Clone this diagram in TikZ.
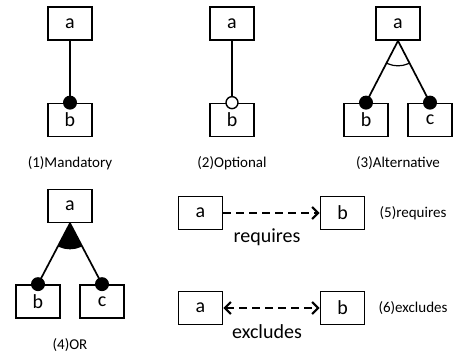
\documentclass[tikz,border=0pt]{standalone}
\usepackage{fontspec}
\setmainfont{Carlito}
\usetikzlibrary{arrows.meta}
\tikzset{
  feat/.style={draw, line width=1.7pt, minimum width=44pt, minimum height=33pt,
    inner sep=0pt, font=\fontsize{20}{20}\selectfont},
  link/.style={line width=1.7pt},
  mand/.style={fill=black},
  opt/.style={fill=white, draw, line width=1.4pt},
  captxt/.style={font=\fontsize{15}{15}\selectfont},
  reltxt/.style={font=\fontsize{20}{20}\selectfont},
  barb/.tip={Straight Barb[length=6pt,width=12pt,line width=2.2pt]},
  dep/.style={line width=2.6pt, dash pattern=on 8pt off 5pt},
}
\begin{document}
\begin{tikzpicture}[x=1pt,y=-1pt]
\useasboundingbox (0,0) rectangle (457,352);

% (1) mandatory feature
\node[feat] (m-a) at (70,23.5) {a};
\node[feat] (m-b) at (70,120) {b};
\draw[link] (m-a.south) -- (m-b.north);
\fill[mand] (m-b.north) circle (7pt);
\node[captxt] (m-cap) at (70,163) {(1)Mandatory};

% (2) optional feature
\node[feat] (o-a) at (232,23.5) {a};
\node[feat] (o-b) at (232,120) {b};
\draw[link] (o-a.south) -- (o-b.north);
\draw[opt] (o-b.north) circle (6pt);
\node[captxt] (o-cap) at (232,163) {(2)Optional};

% (3) alternative group
\node[feat] (x-a) at (398,23.5) {a};
\node[feat] (x-b) at (366,120) {b};
\node[feat] (x-c) at (430,120) {c};
\draw[link] (x-a.south) -- (x-b.north);
\draw[link] (x-a.south) -- (x-c.north);
\begin{scope}
  \clip (x-a.south) -- (x-b.north) -- (x-c.north) -- cycle;
  \draw[line width=1.2pt] (x-a.south) circle (25pt);
\end{scope}
\fill[mand] (x-b.north) circle (7pt);
\fill[mand] (x-c.north) circle (7pt);
\node[captxt] (x-cap) at (398,163) {(3)Alternative};

% (4) or group
\node[feat] (r-a) at (70,206) {a};
\node[feat] (r-b) at (38,301.5) {b};
\node[feat] (r-c) at (102,301.5) {c};
\draw[link] (r-a.south) -- (r-b.north);
\draw[link] (r-a.south) -- (r-c.north);
\begin{scope}
  \clip (r-a.south) -- (r-b.north) -- (r-c.north) -- cycle;
  \fill (r-a.south) circle (26pt);
\end{scope}
\fill[mand] (r-b.north) circle (7pt);
\fill[mand] (r-c.north) circle (7pt);
\node[captxt] (r-cap) at (70,345) {(4)OR};

% (5) requires constraint
\node[feat] (q-a) at (200.5,213) {a};
\node[feat] (q-b) at (342.5,213) {b};
\draw[dep, -barb] (q-a.east) -- (q-b.west);
\node[reltxt] (q-lbl) at (267,237) {requires};
\node[captxt] (q-cap) at (413,213) {(5)requires};

% (6) excludes constraint
\node[feat] (e-a) at (200.5,308) {a};
\node[feat] (e-b) at (342.5,308) {b};
\draw[dep, barb-barb] (e-a.east) -- (e-b.west);
\node[reltxt] (e-lbl) at (267,332) {excludes};
\node[captxt] (e-cap) at (413,308) {(6)excludes};
\end{tikzpicture}
\end{document}
